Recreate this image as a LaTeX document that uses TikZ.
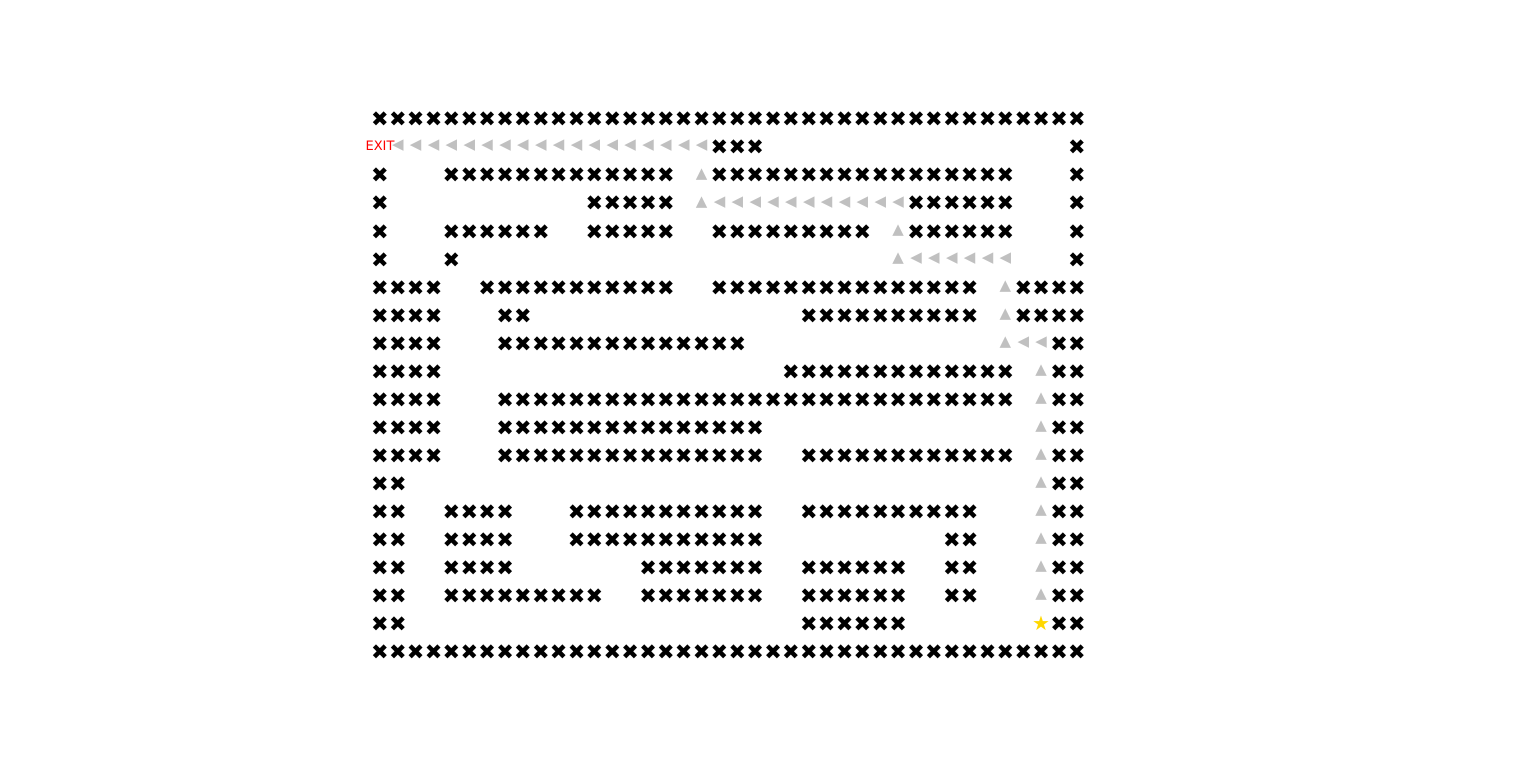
\documentclass[tikz,border=0pt]{standalone}
\usepackage{fontspec}
\setmainfont{DejaVu Sans}
\usepackage{xcolor}
\usepackage{tikz}
\definecolor{GrisCamino}{RGB}{192,192,192}
\definecolor{OroMeta}{RGB}{255,215,0}
\definecolor{RojoSalida}{RGB}{255,0,0}

\begin{document}
\begin{tikzpicture}[x=17.87pt,y=-28.05pt,
  muro/.style={inner sep=0pt,yshift=-1.5pt,font=\fontsize{21}{21}\selectfont},
  camino/.style={inner sep=0pt,text=GrisCamino,font=\fontsize{15}{15}\selectfont},
  meta/.style={inner sep=0pt,text=OroMeta,font=\fontsize{20}{20}\selectfont},
  salida/.style={inner sep=0pt,text=RojoSalida,font=\fontsize{13}{13}\selectfont}]
  \useasboundingbox (-380pt,118pt) rectangle (1156pt,-643pt);
  % muros, fila/desde/hasta
  \foreach \f/\a/\b in {0/0/39,
      1/19/21, 1/39/39,
      2/0/0, 2/4/16, 2/19/35, 2/39/39,
      3/0/0, 3/12/16, 3/30/35, 3/39/39,
      4/0/0, 4/4/9, 4/12/16, 4/19/27, 4/30/35, 4/39/39,
      5/0/0, 5/4/4, 5/39/39,
      6/0/3, 6/6/16, 6/19/33, 6/36/39,
      7/0/3, 7/7/8, 7/24/33, 7/36/39,
      8/0/3, 8/7/20, 8/38/39,
      9/0/3, 9/23/35, 9/38/39,
      10/0/3, 10/7/35, 10/38/39,
      11/0/3, 11/7/21, 11/38/39,
      12/0/3, 12/7/21, 12/24/35, 12/38/39,
      13/0/1, 13/38/39,
      14/0/1, 14/4/7, 14/11/21, 14/24/33, 14/38/39,
      15/0/1, 15/4/7, 15/11/21, 15/32/33, 15/38/39,
      16/0/1, 16/4/7, 16/15/21, 16/24/29, 16/32/33, 16/38/39,
      17/0/1, 17/4/12, 17/15/21, 17/24/29, 17/32/33, 17/38/39,
      18/0/1, 18/24/29, 18/38/39,
      19/0/39}
    \foreach \c in {\a,...,\b}
      \node[muro] (m-\f-\c) at (\c,\f) {✖};
  % camino hacia la salida
  \foreach \f/\a/\b in {1/1/18, 3/19/29, 5/30/35, 8/36/37}
    \foreach \c in {\a,...,\b}
      \node[camino] (i-\f-\c) at (\c,\f) {◀};
  \foreach \c/\f in {18/2, 18/3, 29/4, 29/5, 35/6, 35/7, 35/8}
    \node[camino] (s-\f-\c) at (\c,\f) {▲};
  \foreach \f in {9,...,17}
    \node[camino] (s-\f-37) at (37,\f) {▲};
  % inicio y salida
  \node[meta] (meta) at (37,18) {★};
  \node[salida] (salida) at (0,1) {EXIT};
\end{tikzpicture}
\end{document}
